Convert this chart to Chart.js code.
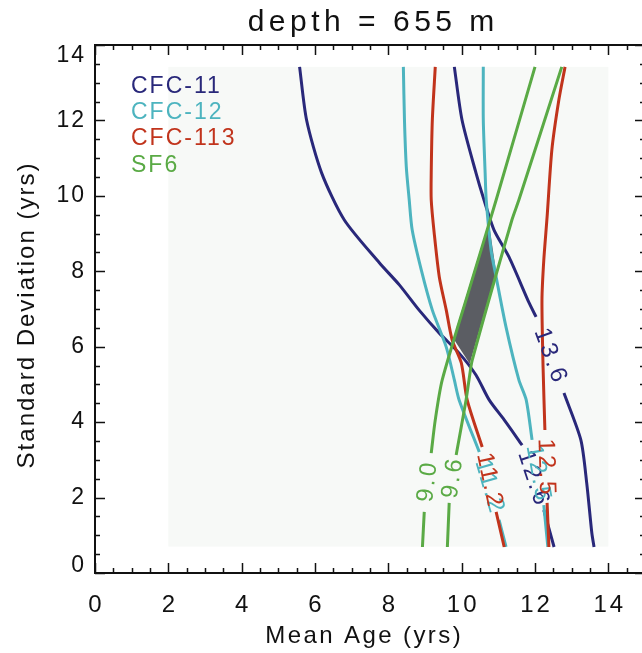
<!DOCTYPE html>
<html><head><meta charset="utf-8">
<script src="https://cdn.jsdelivr.net/npm/chart.js@4/dist/chart.umd.min.js"></script>
<style>html,body{margin:0;padding:0;overflow:hidden;background:#fff}#wrap{width:650px;height:653px;position:relative}</style>
</head><body><div id="wrap"><canvas id="c" width="650" height="653"></canvas></div>
<script>
const titleText = 'depth = 655 m';
const xTitle = 'Mean Age (yrs)';
const yTitle = 'Standard Deviation (yrs)';
const xTickValues = [0, 2, 4, 6, 8, 10, 12, 14];
const yTickValues = [0, 2, 4, 6, 8, 10, 12, 14];
const tracers = ['CFC-11', 'CFC-12', 'CFC-113', 'SF6'];

// model grid extent (shaded background)
const gridX = [2, 14];
const gridY = [0.7, 13.42];

// contour lines (null = gap that holds the contour label)
const cfc11aLabel = '12.6';
const cfc11aX = [5.58, 5.77, 6.18, 6.80, 7.76, 8.30, 8.84, 9.39, 9.93, 10.39, 10.75, 11.16, 11.65, null, 12.24, 12.52];
const cfc11aY = [13.42, 12.01, 10.61, 9.36, 8.22, 7.64, 6.97, 6.36, 5.83, 5.25, 4.59, 4.06, 3.39, null, 1.67, 0.69];
const cfc11bLabel = '13.6';
const cfc11bX = [9.80, 10.01, 10.39, 10.61, 10.88, 11.29, 11.84, 12.03, null, 12.79, 13.25, 13.41, 13.55, 13.61];
const cfc11bY = [13.42, 12.01, 10.61, 9.89, 9.10, 8.38, 7.16, 6.79, null, 4.77, 3.53, 2.39, 1.06, 0.69];

const cfc12aLabel = '11.2';
const cfc12aX = [8.41, 8.44, 8.49, 8.57, 8.65, 8.90, 9.20, 9.58, 9.80, 9.93, 10.48, null, 11.02, 11.21];
const cfc12aY = [13.42, 12.01, 10.77, 9.89, 9.10, 8.03, 6.97, 5.99, 5.12, 4.59, 3.21, null, 1.41, 0.69];
const cfc12bLabel = '12.5';
const cfc12bX = [10.59, 10.59, 10.64, 10.67, 10.80, 10.94, 11.21, 11.56, 11.76, 11.92, null, 12.24, 12.35];
const cfc12bY = [13.42, 12.01, 10.61, 9.89, 8.57, 7.85, 6.52, 5.12, 4.59, 3.53, null, 1.80, 0.69];

const cfc113aLabel = '11.2';
const cfc113aX = [9.28, 9.20, 9.17, 9.17, 9.25, 9.39, 9.58, 9.74, 9.99, 10.15, 10.56, null, 10.94, 11.16];
const cfc113aY = [13.42, 12.01, 10.61, 9.89, 9.02, 7.85, 6.97, 6.18, 5.57, 4.59, 3.34, null, 1.62, 0.69];
const cfc113bLabel = '12.5';
const cfc113bX = [12.82, 12.65, 12.46, 12.33, 12.24, 12.19, 12.22, 12.27, null, 12.33, 12.38];
const cfc113bY = [13.42, 12.54, 11.22, 9.44, 8.30, 7.24, 5.46, 3.79, null, 1.86, 0.69];

const sf6aLabel = '9.0';
const sf6aX = [12.00, 10.94, 10.20, 9.47, 9.28, 9.17, null, 8.98, 8.93];
const sf6aY = [13.42, 9.89, 7.50, 5.12, 4.06, 3.18, null, 1.62, 0.69];
const sf6bLabel = '9.6';
const sf6bX = [12.73, 11.56, 11.37, 10.29, 10.20, 10.12, 9.85, null, 9.66, 9.61];
const sf6bY = [13.42, 9.89, 9.36, 5.65, 5.12, 4.59, 3.13, null, 1.86, 0.69];

// overlap (solution) region
const overlapX = [10.74, 10.94, 10.22, 9.80, 9.86];
const overlapY = [9.30, 7.98, 5.55, 6.18, 6.50];

const colors = {'CFC-11': '#29287a', 'CFC-12': '#4db4bf', 'CFC-113': '#c1341c', 'SF6': '#5aaa45'};
const FONT = "'Liberation Sans', Arial, sans-serif";

function pts(xs, ys) { return xs.map((x, i) => ({x: x, y: ys[i]})); }
function ds(tracer, xs, ys, label, order) {
  return {label: tracer, contourLabel: label, data: pts(xs, ys), showLine: true, borderColor: colors[tracer],
    backgroundColor: colors[tracer], borderWidth: 3, pointRadius: 0, tension: 0.25, spanGaps: false, order: order,
    borderCapStyle: 'butt', borderJoinStyle: 'round'};
}

const datasets = [
  ds('CFC-11', cfc11aX, cfc11aY, cfc11aLabel, 4),
  ds('CFC-11', cfc11bX, cfc11bY, cfc11bLabel, 4),
  ds('CFC-12', cfc12aX, cfc12aY, cfc12aLabel, 3),
  ds('CFC-12', cfc12bX, cfc12bY, cfc12bLabel, 3),
  ds('CFC-113', cfc113aX, cfc113aY, cfc113aLabel, 2),
  ds('CFC-113', cfc113bX, cfc113bY, cfc113bLabel, 2),
  ds('SF6', sf6aX, sf6aY, sf6aLabel, 1),
  ds('SF6', sf6bX, sf6bY, sf6bLabel, 1)
];

function setFont(ctx, size, spacing) {
  ctx.font = size + 'px ' + FONT;
  if ('letterSpacing' in ctx) ctx.letterSpacing = spacing + 'px';
}
function textC(ctx, s, x, y, spacing) {
  // centre text that carries letter spacing
  const w = ctx.measureText(s).width;
  const align = ctx.textAlign;
  ctx.textAlign = 'left';
  ctx.fillText(s, x - (w - spacing) / 2, y);
  ctx.textAlign = align;
}

const idlPlugin = {
  id: 'idl',
  beforeDatasetsDraw(chart) {
    const {ctx, scales: {x, y}} = chart;
    ctx.save();
    ctx.fillStyle = '#f7f9f7';
    const x0 = x.getPixelForValue(gridX[0]), x1 = x.getPixelForValue(gridX[1]);
    const y0 = y.getPixelForValue(gridY[0]), y1 = y.getPixelForValue(gridY[1]);
    ctx.fillRect(x0, y1, x1 - x0, y0 - y1);
    ctx.fillStyle = '#5b5d63';
    ctx.beginPath();
    overlapX.forEach((v, i) => {
      const px = x.getPixelForValue(v), py = y.getPixelForValue(overlapY[i]);
      if (i === 0) ctx.moveTo(px, py); else ctx.lineTo(px, py);
    });
    ctx.closePath();
    ctx.fill();
    ctx.restore();
  },
  afterDatasetsDraw(chart) {
    const {ctx, chartArea: ca, scales: {x, y}} = chart;
    ctx.save();
    // contour labels, drawn in the gaps along each line
    chart.data.datasets.forEach((d, di) => {
      const meta = chart.getDatasetMeta(di);
      const gi = d.data.findIndex(p => p.y === null);
      if (gi < 1) return;
      const a = meta.data[gi - 1], b = meta.data[gi + 1];
      let ang = Math.atan2(b.y - a.y, b.x - a.x);
      if (b.x - a.x < 0) ang += Math.PI;
      if (ang > Math.PI) ang -= 2 * Math.PI;
      ctx.save();
      ctx.translate((a.x + b.x) / 2, (a.y + b.y) / 2);
      ctx.rotate(ang);
      setFont(ctx, 24, 3);
      ctx.fillStyle = d.borderColor;
      ctx.textBaseline = 'middle';
      textC(ctx, d.contourLabel, 0, 0, 3);
      ctx.restore();
    });
    // legend
    setFont(ctx, 23, 2);
    ctx.textAlign = 'left';
    ctx.textBaseline = 'middle';
    const legY = [87, 113, 139, 166];
    tracers.forEach((t, i) => { ctx.fillStyle = colors[t]; ctx.fillText(t, 131, legY[i]); });
    // axis box
    ctx.strokeStyle = '#111';
    ctx.lineWidth = 2;
    ctx.strokeRect(ca.left, ca.top, ca.right - ca.left, ca.bottom - ca.top);
    ctx.lineWidth = 1.5;
    ctx.beginPath();
    for (let v = x.min; v <= x.max + 1e-9; v += 0.5) {
      const px = Math.round(x.getPixelForValue(v)) + 0.5;
      const len = (Math.abs(v % 2) < 1e-9) ? 10 : 5;
      ctx.moveTo(px, ca.bottom); ctx.lineTo(px, ca.bottom - len);
      ctx.moveTo(px, ca.top); ctx.lineTo(px, ca.top + len);
    }
    for (let v = y.min; v <= y.max + 1e-9; v += 0.5) {
      const py = Math.round(y.getPixelForValue(v)) + 0.5;
      const len = (Math.abs(v % 2) < 1e-9) ? 10 : 5;
      ctx.moveTo(ca.left, py); ctx.lineTo(ca.left + len, py);
      ctx.moveTo(ca.right, py); ctx.lineTo(ca.right - len, py);
    }
    ctx.stroke();
    // tick labels
    ctx.fillStyle = '#111';
    setFont(ctx, 24, 3);
    ctx.textBaseline = 'alphabetic';
    xTickValues.forEach(v => textC(ctx, String(v), x.getPixelForValue(v), 612, 3));
    setFont(ctx, 23, 2);
    ctx.textAlign = 'right';
    ctx.textBaseline = 'middle';
    yTickValues.forEach(v => {
      let py = y.getPixelForValue(v);
      py = Math.max(ca.top + 11, Math.min(ca.bottom - 7, py));
      ctx.fillText(String(v), 86, py);
    });
    // titles
    ctx.textBaseline = 'alphabetic';
    setFont(ctx, 24, 2.4);
    textC(ctx, xTitle, 363, 643, 2.4);
    setFont(ctx, 30, 4.5);
    textC(ctx, titleText, 371, 31, 4.5);
    setFont(ctx, 24, 2);
    ctx.save();
    ctx.translate(27, 316);
    ctx.rotate(-Math.PI / 2);
    ctx.textBaseline = 'middle';
    textC(ctx, yTitle, 0, 0, 2);
    ctx.restore();
    ctx.restore();
  }
};

new Chart(document.getElementById('c'), {
  type: 'scatter',
  data: {datasets: datasets},
  options: {
    responsive: false,
    animation: false,
    devicePixelRatio: 1,
    layout: {padding: {top: 45, right: 5, left: 0, bottom: 0}},
    plugins: {legend: {display: false}, tooltip: {enabled: false}, title: {display: false}},
    scales: {
      x: {type: 'linear', min: 0, max: 15, ticks: {display: false}, grid: {display: false}, border: {display: false},
          afterFit: s => { s.height = 80; }},
      y: {type: 'linear', min: 0, max: 14, ticks: {display: false}, grid: {display: false}, border: {display: false},
          afterFit: s => { s.width = 95; }}
    }
  },
  plugins: [idlPlugin]
});
</script></body></html>
